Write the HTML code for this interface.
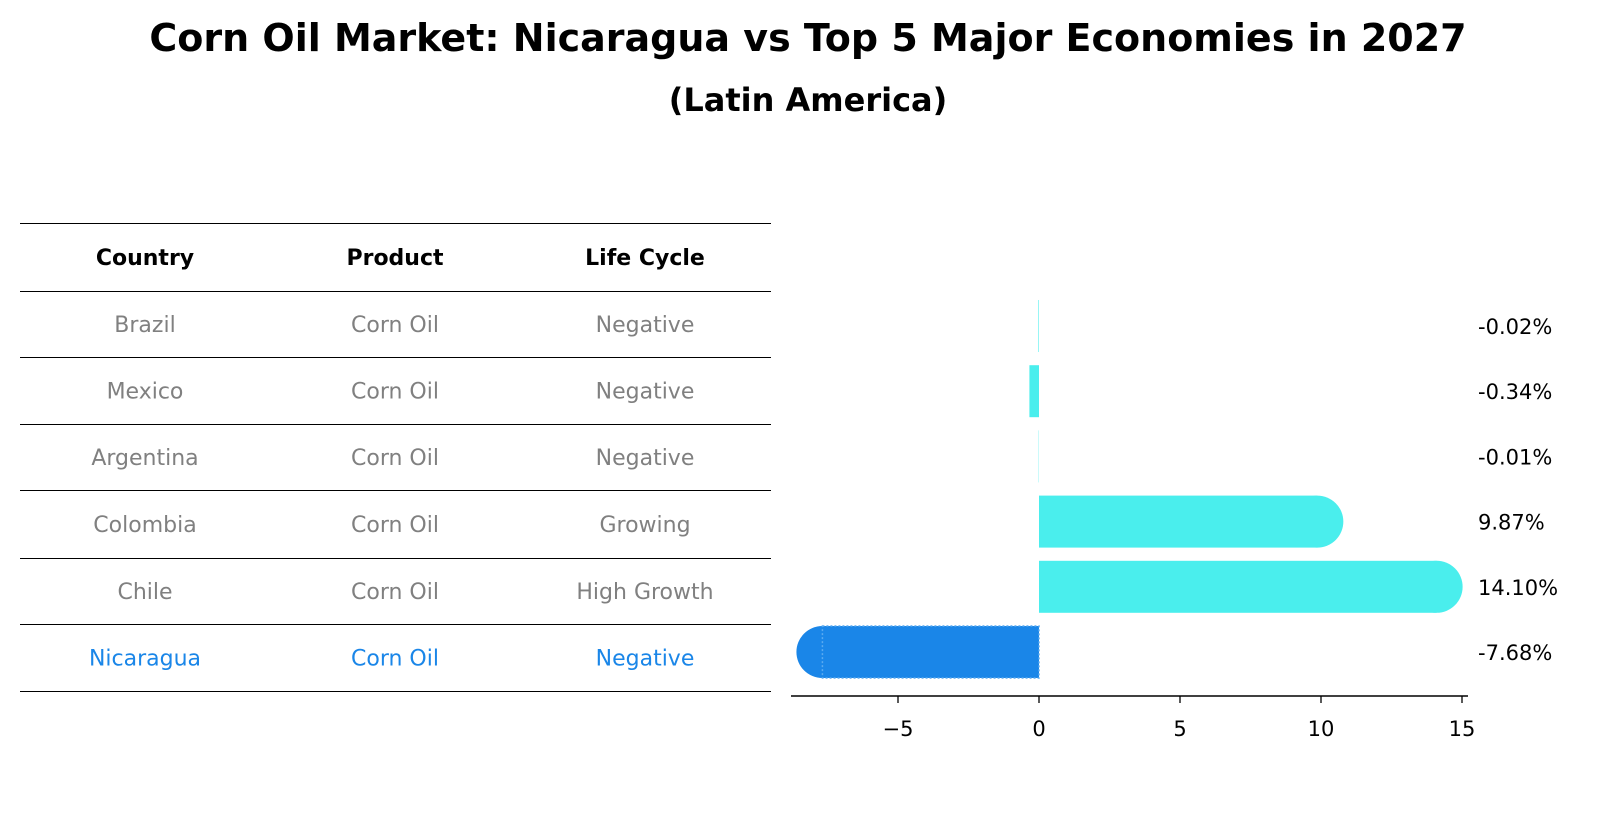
<!DOCTYPE html>
<html><head><meta charset="utf-8"><style>
body{margin:0;background:#fff;font-family:"DejaVu Sans","Liberation Sans",sans-serif;}
</style></head><body>
<svg width="1604" height="823" xmlns="http://www.w3.org/2000/svg" font-family="DejaVu Sans, Liberation Sans, sans-serif">
<text x="808" y="51" text-anchor="middle" font-size="38" font-weight="bold">Corn Oil Market: Nicaragua vs Top 5 Major Economies in 2027</text>
<text x="808" y="111" text-anchor="middle" font-size="32" font-weight="bold">(Latin America)</text>
<g id="table"></g>
<g id="bars"></g>
</svg>
<script>
const countries=["Brazil","Mexico","Argentina","Colombia","Chile","Nicaragua"];
const products=["Corn Oil","Corn Oil","Corn Oil","Corn Oil","Corn Oil","Corn Oil"];
const lifeCycles=["Negative","Negative","Negative","Growing","High Growth","Negative"];
const growthValues=[-0.02,-0.34,-0.01,9.87,14.10,-7.68];
const tickValues=[-5,0,5,10,15];
const NS="http://www.w3.org/2000/svg";
function mk(p,tag,attrs){const e=document.createElementNS(NS,tag);for(const k in attrs)e.setAttribute(k,attrs[k]);p.appendChild(e);return e;}
const tbl=document.getElementById('table');
const lineYs=[223,291,357,424,490,558,624,691];
const colX=[145,395,645];
lineYs.forEach((y,i)=>{const l=mk(tbl,'line',{x1:20,x2:771,y1:y+0.5,y2:y+0.5,stroke:'#000','stroke-width':1});

});
["Country","Product","Life Cycle"].forEach((h,j)=>{const t=mk(tbl,'text',{x:colX[j],y:265,'text-anchor':'middle','font-size':22,'font-weight':'bold'});t.textContent=h;

});
countries.forEach((c,i)=>{const y=(lineYs[i+1]+lineYs[i+2])/2+8;const col=c==="Nicaragua"?"#1a86e8":"#808080";
[c,products[i],lifeCycles[i]].forEach((v,j)=>{const t=mk(tbl,'text',{x:colX[j],y:y,'text-anchor':'middle','font-size':22,fill:col});t.textContent=v;

});});
const g=document.getElementById('bars');
const x0=1039,ppu=28.2;
const X=v=>x0+v*ppu;
const rowY=i=>326+i*65.2;
const bh=52,r=26;
growthValues.forEach((v,i)=>{const cy=rowY(i);const nic=countries[i]==="Nicaragua";const col=nic?"#1a86e8":"#4aeeed";
const xs=Math.min(X(0),X(v)),w=Math.abs(X(v)-X(0));
if(Math.abs(v)>1){const cap=mk(g,'circle',{cx:X(v),cy:cy,r:r,fill:col});

}
const b=mk(g,'rect',{x:xs,y:cy-bh/2,width:w,height:bh,fill:col});
if(nic){b.setAttribute('stroke','#5aaaf0');b.setAttribute('stroke-dasharray','2,2');b.setAttribute('stroke-width','1.5');}


const t=mk(g,'text',{x:1478,y:cy+8,'font-size':21});t.textContent=v.toFixed(2)+"%";

});
const ax=mk(g,'line',{x1:791,x2:1468,y1:696,y2:696,stroke:'#000','stroke-width':1.5});


tickValues.forEach(v=>{const tk=mk(g,'line',{x1:X(v),x2:X(v),y1:696,y2:703,stroke:'#000','stroke-width':1.3});


const t=mk(g,'text',{x:X(v),y:736,'text-anchor':'middle','font-size':21});t.textContent=v<0?"\u2212"+Math.abs(v):String(v);

});
</script>
</body></html>
